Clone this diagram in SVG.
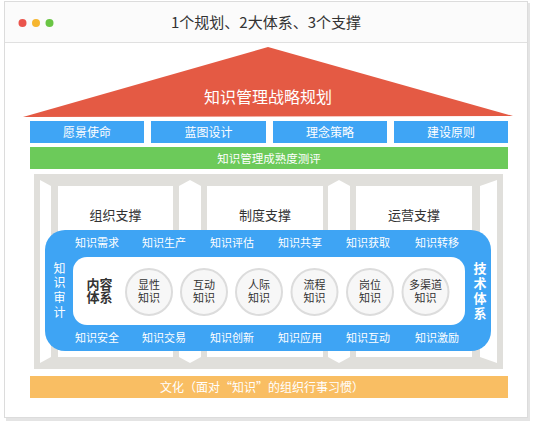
<svg xmlns="http://www.w3.org/2000/svg" width="536" height="424" viewBox="0 0 536 424">
<defs>
<style>
text{font-family:"Noto Sans CJK SC","Microsoft YaHei","Noto Sans",sans-serif}
.w{fill:#fff}
.c{text-anchor:middle}
.lbl{font-size:11px;fill:#fff;text-anchor:middle}
.box{fill:#3fa5f5}
.circ{fill:#f7f7f7;stroke:#dcdcdc;stroke-width:2}
.ct{font-size:11px;fill:#333;text-anchor:middle}
.pan{fill:#fff}
.pt{font-size:13px;fill:#333;text-anchor:middle}
.vt{writing-mode:tb;glyph-orientation-vertical:0}
</style>
</defs>
<g id="window">
<rect x="6" y="3" width="524" height="418" fill="#e4e4e4"/>
<rect x="4.5" y="1.5" width="523" height="416" fill="#fff" stroke="#dcdcdc"/>
<rect x="5" y="2" width="522" height="40" fill="#fbfbfb"/>
<line x1="5" y1="42.5" x2="527" y2="42.5" stroke="#e0e0e0"/>
<circle cx="22.5" cy="23" r="4" fill="#ea544c"/>
<circle cx="36" cy="23" r="4" fill="#f6b630"/>
<circle cx="49.5" cy="23" r="4" fill="#6ac544"/>
<text x="266" y="28" class="c" font-size="15" fill="#333">1个规划、2大体系、3个支撑</text>
</g>
<g id="roof">
<polygon points="23,117 268,47 513,116" fill="#e45a44"/>
<text x="268" y="103" class="c w" font-size="16">知识管理战略规划</text>
</g>
<g id="b1"><rect x="30" y="121" width="114" height="22" class="box"/><text x="87" y="137" class="c w" font-size="12">愿景使命</text></g>
<g id="b2"><rect x="151" y="121" width="115" height="22" class="box"/><text x="208.5" y="137" class="c w" font-size="12">蓝图设计</text></g>
<g id="b3"><rect x="273" y="121" width="114" height="22" class="box"/><text x="330" y="137" class="c w" font-size="12">理念策略</text></g>
<g id="b4"><rect x="394" y="121" width="114" height="22" class="box"/><text x="451" y="137" class="c w" font-size="12">建设原则</text></g>
<g id="maturity"><rect x="30" y="147" width="478" height="22" fill="#6cca5a"/><text x="269" y="163" class="c w" font-size="11.5">知识管理成熟度测评</text></g>
<g id="frame">
<rect x="34" y="174" width="469" height="195" fill="#e0dfdb"/>
<polygon points="40,180 51,186 51,357 40,363" class="pan"/>
<polygon points="179,186 190,180 201,186 201,357 190,363 179,357" class="pan"/>
<polygon points="328,186 339,180 350,186 350,357 339,363 328,357" class="pan"/>
<polygon points="480,186 497,180 497,363 480,357" class="pan"/>
</g>
<g id="p1"><rect x="58" y="186" width="115" height="171" class="pan"/><text x="115.5" y="220" class="pt">组织支撑</text></g>
<g id="p2"><rect x="207" y="186" width="116" height="171" class="pan"/><text x="265" y="220" class="pt">制度支撑</text></g>
<g id="p3"><rect x="356" y="186" width="116" height="171" class="pan"/><text x="414" y="220" class="pt">运营支撑</text></g>
<g id="tech">
<rect x="45" y="230" width="446" height="121" rx="20" fill="#3ea4f4"/>
<rect x="73" y="257" width="392" height="68" rx="14" fill="#fff"/>
<text x="97" y="247" class="lbl">知识需求</text>
<text x="164" y="247" class="lbl">知识生产</text>
<text x="232" y="247" class="lbl">知识评估</text>
<text x="300" y="247" class="lbl">知识共享</text>
<text x="368" y="247" class="lbl">知识获取</text>
<text x="437" y="247" class="lbl">知识转移</text>
<text x="97" y="342" class="lbl">知识安全</text>
<text x="164" y="342" class="lbl">知识交易</text>
<text x="232" y="342" class="lbl">知识创新</text>
<text x="300" y="342" class="lbl">知识应用</text>
<text x="368" y="342" class="lbl">知识互动</text>
<text x="437" y="342" class="lbl">知识激励</text>
<text x="59.5" y="262" class="vt w" font-size="12" letter-spacing="2.7">知识审计</text>
<text x="480" y="261.5" class="vt w" font-size="13" font-weight="bold" letter-spacing="2">技术体系</text>
<text class="c" font-size="13" font-weight="bold" fill="#333"><tspan x="99.5" y="289">内容</tspan><tspan x="99.5" y="302">体系</tspan></text>
</g>
<g id="k1"><circle cx="149" cy="292" r="23" class="circ"/><text class="ct"><tspan x="149" y="289">显性</tspan><tspan x="149" y="302">知识</tspan></text></g>
<g id="k2"><circle cx="204" cy="292" r="23" class="circ"/><text class="ct"><tspan x="204" y="289">互动</tspan><tspan x="204" y="302">知识</tspan></text></g>
<g id="k3"><circle cx="259" cy="292" r="23" class="circ"/><text class="ct"><tspan x="259" y="289">人际</tspan><tspan x="259" y="302">知识</tspan></text></g>
<g id="k4"><circle cx="314.5" cy="292" r="23" class="circ"/><text class="ct"><tspan x="314.5" y="289">流程</tspan><tspan x="314.5" y="302">知识</tspan></text></g>
<g id="k5"><circle cx="370" cy="292" r="23" class="circ"/><text class="ct"><tspan x="370" y="289">岗位</tspan><tspan x="370" y="302">知识</tspan></text></g>
<g id="k6"><circle cx="425.5" cy="292" r="23" class="circ"/><text class="ct"><tspan x="425.5" y="289">多渠道</tspan><tspan x="425.5" y="302">知识</tspan></text></g>
<g id="culture"><rect x="30" y="376" width="478" height="22" fill="#f9be63"/><text x="262" y="392" class="c w" font-size="12">文化（面对“知识”的组织行事习惯）</text></g>
<g id="connectors"></g>
</svg>
